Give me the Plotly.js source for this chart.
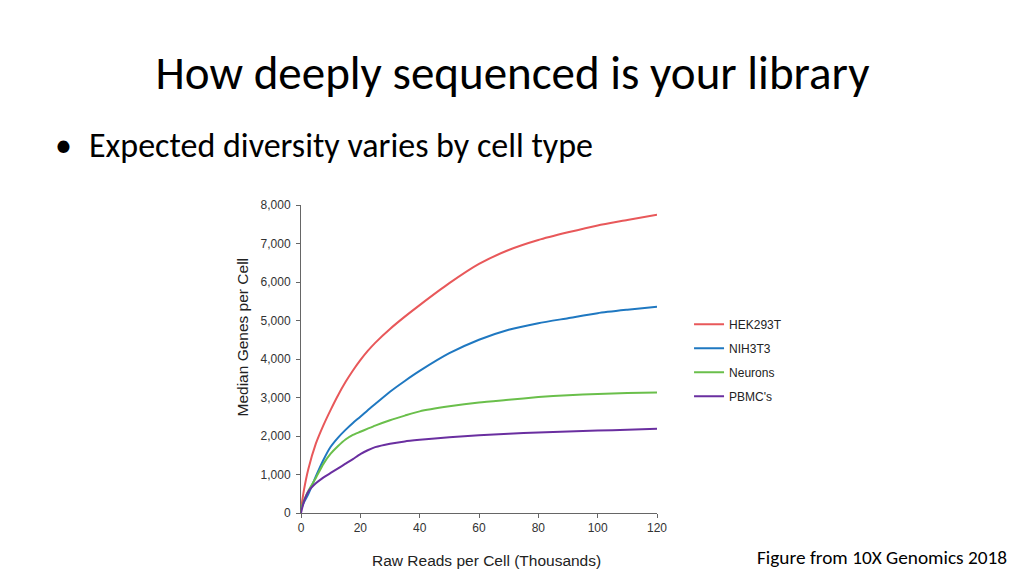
<!DOCTYPE html>
<html>
<head>
<meta charset="utf-8">
<script src="https://cdn.plot.ly/plotly-3.0.1.min.js"></script>
<style>html,body{margin:0;padding:0;background:#fff;}#chart{width:1024px;height:576px;}</style>
</head>
<body>
<div id="chart"></div>
<script>
const reads   = [0, 1, 2.5, 5, 7.5, 10, 12.5, 15, 17.5, 20, 22.5, 25, 30, 35, 40, 50, 60, 70, 80, 90, 100, 110, 120];
const seriesNames = ["HEK293T", "NIH3T3", "Neurons", "PBMC's"];
const hek293t = [100, 600, 1150, 1800, 2270, 2680, 3060, 3400, 3700, 3970, 4210, 4420, 4780, 5100, 5400, 5970, 6470, 6830, 7090, 7290, 7470, 7610, 7750];
const nih3t3  = [100, 280, 500, 950, 1370, 1720, 1960, 2160, 2340, 2500, 2670, 2830, 3150, 3430, 3690, 4150, 4500, 4760, 4930, 5060, 5190, 5280, 5360];
const neurons = [100, 330, 580, 910, 1270, 1540, 1740, 1910, 2030, 2110, 2190, 2270, 2410, 2530, 2640, 2770, 2870, 2940, 3010, 3060, 3090, 3115, 3130];
const pbmcs   = [0, 300, 560, 770, 920, 1040, 1160, 1280, 1400, 1530, 1630, 1710, 1800, 1860, 1900, 1970, 2020, 2060, 2090, 2115, 2140, 2165, 2190];
const xTicks = [0, 20, 40, 60, 80, 100, 120];
const yTicks = [0, 1000, 2000, 3000, 4000, 5000, 6000, 7000, 8000];
const colors = ["#e8585a", "#1f78c1", "#6abf4b", "#6a2fa0"];

const seriesValues = [hek293t, nih3t3, neurons, pbmcs];
const traces = seriesNames.map((n, i) => ({
  x: reads, y: seriesValues[i], name: n, type: "scatter", mode: "lines",
  line: {color: colors[i], width: 2, shape: "spline", smoothing: 0.6},
  legendgroup: "g" + i
}));

const sans = "Liberation Sans, Arial, sans-serif";
const slide = "Carlito, Calibri, 'Open Sans', sans-serif";
const axisFont = {family: sans, size: 12, color: "#333"};
const px = v => (v - 301) / 356;
const py = v => (513 - v) / 308;
const layout = {
  width: 1024, height: 576,
  paper_bgcolor: "#fff", plot_bgcolor: "#fff",
  margin: {l: 301, r: 367, t: 205, b: 63},
  title: {text: "How deeply sequenced is your library", xref: "container", yref: "container",
          x: 512.5 / 1024, y: 1 - 73/576, xanchor: "center", yanchor: "middle",
          font: {family: slide, size: 47, color: "#000"}},
  showlegend: true,
  legend: {x: 1.09, y: 0.66, xanchor: "left", yanchor: "top", tracegroupgap: 5,
           font: {family: sans, size: 12, color: "#222"},
           bgcolor: "rgba(0,0,0,0)"},
  xaxis: {range: [0, 120], tickvals: xTicks, ticks: "outside", ticklen: 4, tickcolor: "#666",
          showline: true, linecolor: "#666", linewidth: 1, showgrid: false, zeroline: false,
          tickfont: axisFont},
  yaxis: {range: [0, 8000], tickvals: yTicks, tickformat: ",d", ticks: "outside", ticklen: 4, tickcolor: "#666",
          showline: true, linecolor: "#666", linewidth: 1, showgrid: false, zeroline: false,
          ticklabelstandoff: 3, tickfont: axisFont},
  annotations: [
    {text: "Raw Reads per Cell (Thousands)", xref: "paper", yref: "paper",
     x: px(486), y: py(560), xanchor: "center", yanchor: "middle", showarrow: false,
     font: {family: sans, size: 15.5, color: "#222"}},
    {text: "Median Genes per Cell", xref: "paper", yref: "paper", textangle: -90,
     x: px(241.5), y: py(337), xanchor: "center", yanchor: "middle", showarrow: false,
     font: {family: sans, size: 15.5, color: "#222"}},
    {text: "•", xref: "paper", yref: "paper",
     x: px(63), y: py(145), xanchor: "center", yanchor: "middle", showarrow: false,
     font: {family: slide, size: 34, color: "#000"}},
    {text: "Expected diversity varies by cell type", xref: "paper", yref: "paper",
     x: px(87), y: py(145), xanchor: "left", yanchor: "middle", showarrow: false,
     font: {family: slide, size: 34, color: "#000"}},
    {text: "Figure from 10X Genomics 2018", xref: "paper", yref: "paper",
     x: px(1009), y: py(557), xanchor: "right", yanchor: "middle", showarrow: false,
     font: {family: slide, size: 19.3, color: "#000"}}
  ]
};
Plotly.newPlot("chart", traces, layout, {displayModeBar: false, staticPlot: true});
</script>
</body>
</html>
